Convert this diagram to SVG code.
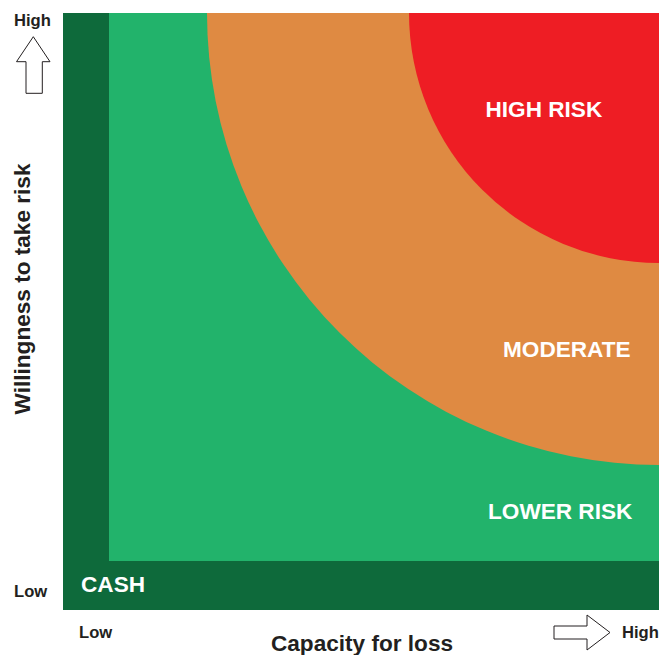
<svg xmlns="http://www.w3.org/2000/svg" width="672" height="655" viewBox="0 0 672 655">
  <style>
    .zone-label { font-family: "Liberation Sans", Arial, sans-serif; font-weight: bold; font-size: 22.6px; fill: #ffffff; }
    .axis-title { font-family: "Liberation Sans", Arial, sans-serif; font-weight: bold; font-size: 22.6px; fill: #231f20; }
    .axis-end { font-family: "Liberation Sans", Arial, sans-serif; font-weight: bold; font-size: 16.6px; fill: #231f20; }
    .arrow { fill: #ffffff; stroke: #231f20; stroke-width: 1; stroke-linejoin: miter; }
  </style>
  <rect width="672" height="655" fill="#ffffff"/>

  <!-- Cash band (L-shaped frame) -->
  <g id="cash">
    <rect x="63" y="13" width="596" height="597" fill="#0e6a3b"/>
    <text class="zone-label" x="81" y="592">CASH</text>
  </g>

  <!-- Lower risk field -->
  <g id="lower-risk">
    <rect x="109" y="13" width="550" height="548" fill="#22b36b"/>
    <text class="zone-label" x="488" y="519">LOWER RISK</text>
  </g>

  <!-- Moderate quarter ring, centred on the top-right corner -->
  <g id="moderate">
    <path d="M207 13 A452 452 0 0 0 659 465 L659 13 Z" fill="#df8a42"/>
    <text class="zone-label" x="503" y="357">MODERATE</text>
  </g>

  <!-- High risk quarter disc -->
  <g id="high-risk">
    <path d="M409 13 A250 250 0 0 0 659 263 L659 13 Z" fill="#ee1d24"/>
    <text class="zone-label" x="485.5" y="117">HIGH RISK</text>
  </g>

  <!-- Axis arrows -->
  <g id="connectors">
    <polygon class="arrow" points="33.3,36.7 50,61.7 42.3,61.7 42.3,93.3 26,93.3 26,61.7 16.5,61.7"/>
    <polygon class="arrow" points="554,626 587,626 587,615 610,632.5 587,650 587,639 554,639"/>
  </g>

  <!-- Vertical axis -->
  <g id="y-axis">
    <text class="axis-end" x="14" y="26">High</text>
    <text class="axis-end" x="14" y="597">Low</text>
    <text class="axis-title" transform="translate(30,289) rotate(-90)" text-anchor="middle">Willingness to take risk</text>
  </g>

  <!-- Horizontal axis -->
  <g id="x-axis">
    <text class="axis-end" x="79" y="638">Low</text>
    <text class="axis-end" x="622" y="638">High</text>
    <text class="axis-title" x="362" y="651" text-anchor="middle">Capacity for loss</text>
  </g>
</svg>
